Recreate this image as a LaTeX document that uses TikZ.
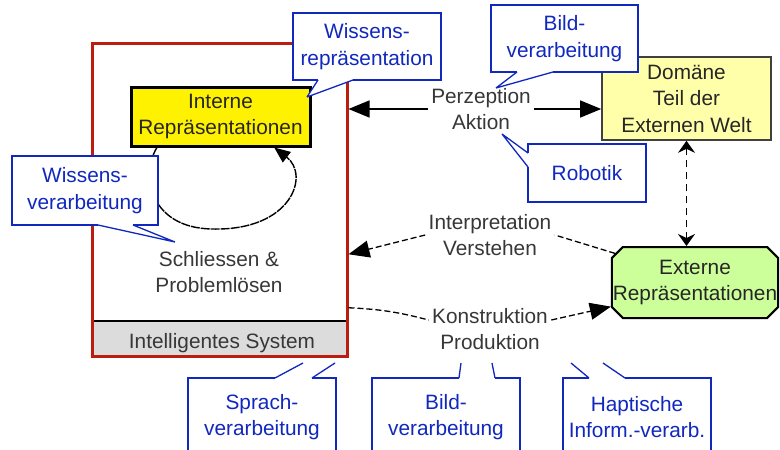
\documentclass[tikz,border=0pt]{standalone}
\usepackage{fontspec}
\setmainfont{Liberation Sans}
\usetikzlibrary{arrows.meta, shapes.misc}

\definecolor{sysred}{RGB}{185,30,15}
\definecolor{calloutblue}{RGB}{16,40,190}
\definecolor{domainyellow}{RGB}{255,255,170}
\definecolor{extgreen}{RGB}{204,255,153}
\definecolor{bandgray}{RGB}{220,220,220}
\definecolor{labelgray}{RGB}{55,55,55}

\tikzset{
        every node/.style={font=\fontsize{20.8}{26.5}\selectfont, text=labelgray, align=center},
        big arrow/.style={-{Triangle[length=21pt,width=17pt]}, line width=1.3pt}, % filled heads
        dashed link/.style={line width=1.3pt, dash pattern=on 6pt off 3pt},
        loop line/.style={line width=1.4pt, dash pattern=on 9pt off 1pt, -{Triangle[length=16pt,width=13pt]}},
        both tips/.style={{Stealth[length=12pt,width=17pt,inset=4pt]}-{Stealth[length=12pt,width=17pt,inset=4pt]}},
    }
\tikzset{
      sys box/.style={
        draw=sysred,
        line width=3pt,
        minimum width=255pt,
        minimum height=313pt,
        inner sep=0pt,
      },
      intern box/.style={
        draw=black,
        fill=yellow,
        line width=3pt,
        text=black!85,
        minimum width=179pt,
        minimum height=59pt,
        inner sep=0pt,
      },
      domain box/.style={
        draw=black!75,
        fill=domainyellow,
        line width=1.6pt,
        text=black!85,
        minimum width=169pt,
        minimum height=83pt,
        inner sep=0pt,
      },
      extern box/.style={
        chamfered rectangle,
        chamfered rectangle xsep=7pt,
        chamfered rectangle ysep=4pt,
        draw=black,
        fill=extgreen,
        line width=2pt,
        text=black!85,
        inner xsep=-6pt, % text runs into the chamfers
        inner ysep=0pt,
        minimum height=71pt,
      },
      callout box/.style={
        draw=calloutblue,
        fill=white,
        line width=1.3pt,
        text=calloutblue,
        inner sep=0pt,
      },
      callout line/.style={
        draw=calloutblue,
        line width=1.3pt,
      },
    }

% pointer of a speech bubble: base, tip, tip, base
\newcommand{\calloutpointer}[4]{%
  \fill[white] (#1) -- (#2) -- (#3) -- (#4) -- cycle;
  \draw[white, line width=2.6pt] (#1) -- (#4);
  \draw[callout line] (#1) -- (#2) (#3) -- (#4);
}

\begin{document}
\begin{tikzpicture}[x=1pt, y=-1pt]
  \useasboundingbox (0,0) rectangle (780,450);
  \clip (0,0) rectangle (780,450);

  % the intelligent system
  \fill[bandgray] (92,321) rectangle (347,356);
  \draw[line width=1.5pt] (92,321) -- (347,321);
  \node[sys box] (isys) at (219.5,199.5) {};
  \node (sysname) at (222,342.7) {Intelligentes System};
  \node[intern box] (intrep) at (220.5,116.5) {Interne\\Repräsentationen};
  \node (schluss) at (219,272) {Schliessen \&\\Problemlösen};

  % outside world
  \node[domain box] (domain) at (686.5,98.5) {Domäne\\Teil der\\Externen Welt};
  \node[extern box] (extrep) at (695,282.5) {Externe\\Repräsentationen};

  \node (perz) at (481,109) {Perzeption\\Aktion};
  \node (interp) at (490,235) {Interpretation\\Verstehen};
  \node (konstr) at (490,329) {Konstruktion\\Produktion};

  \draw[big arrow] (perz.west) -- (perz.west -| isys.east);
  \draw[big arrow] (perz.east) -- (perz.east -| domain.west);
  \draw[dashed link] (extrep.160) -- (interp.east);
  \draw[dashed link, big arrow] (interp.west) -- (isys.-23);
  \draw[dashed link] (isys.-40) to[bend left=6] ([yshift=9pt]konstr.west);
  \draw[dashed link, big arrow] ([yshift=9pt]konstr.east) -- (extrep.196);
  \draw[loop line] (intrep.206) .. controls (140,175) and (150,228) .. (212,229)
                   .. controls (292,231) and (310,175) .. (intrep.-30);
  \draw[both tips, line width=1.5pt, dash pattern=on 7pt off 5pt]
    (domain.south) -- (domain.south |- extrep.north);

  % speech bubbles
  \node[callout box, minimum width=148pt, minimum height=67pt] (wrep) at (367,46.5) {Wissens-\\repräsentation};
  \calloutpointer{318,80}{307,97}{307,97}{353,80}
  \node[callout box, minimum width=147pt, minimum height=67pt] (bildtop) at (564.5,38.5) {Bild-\\verarbeitung};
  \calloutpointer{517,72}{496,88}{496,88}{553,72}
  \node[callout box, minimum width=118pt, minimum height=58pt] (robotik) at (587,173) {Robotik};
  \calloutpointer{528,153}{502,134}{502,134}{528,167}
  \node[callout box, minimum width=146pt, minimum height=69pt] (wverarb) at (85,190.5) {Wissens-\\verarbeitung};
  \calloutpointer{98,225}{175,242}{175,242}{133,225}

  \node[callout box, minimum width=148pt, minimum height=78pt] (sprach) at (262,417) {Sprach-\\verarbeitung};
  \calloutpointer{275,378}{303,363}{335,363}{312,378}
  \node[callout box, minimum width=148pt, minimum height=78pt] (bildbot) at (446,417) {Bild-\\verarbeitung};
  \calloutpointer{459,378}{461,363}{492,363}{495,378}
  \node[callout box, minimum width=148pt, minimum height=78pt] (haptik) at (637,417) {Haptische\\Inform.-verarb.};
  \calloutpointer{589,378}{571,363}{603,363}{625,378}
\end{tikzpicture}
\end{document}
